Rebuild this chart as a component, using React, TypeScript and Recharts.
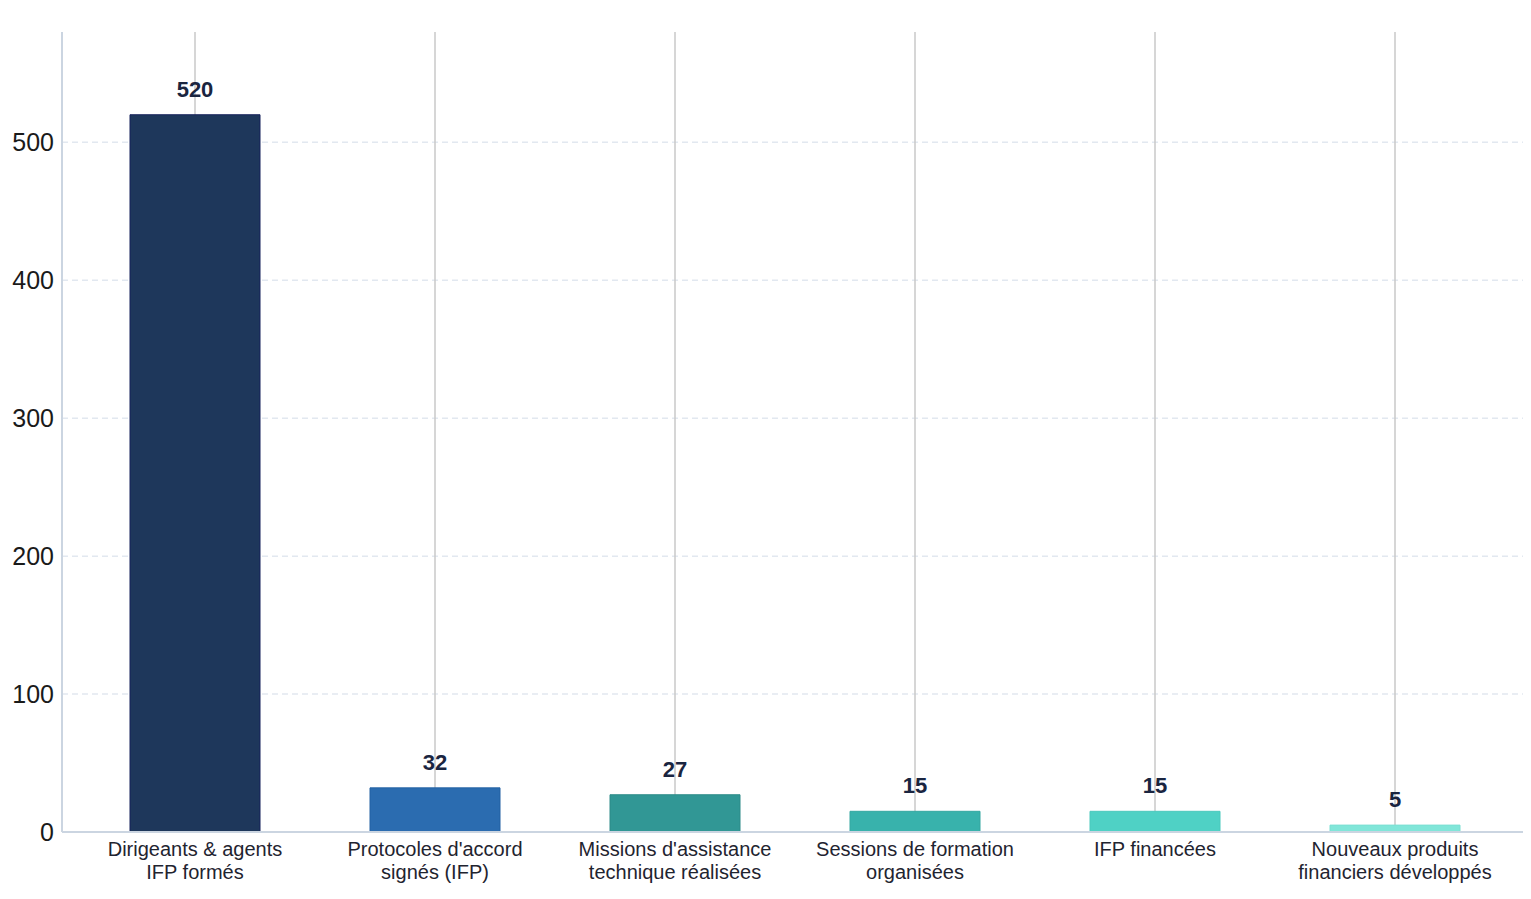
import { BarChart, Bar, XAxis, YAxis, CartesianGrid, Cell, LabelList } from "recharts";

// categories (line breaks as in the picture)
const CATEGORIES = [
  "Dirigeants & agents\nIFP formés",
  "Protocoles d'accord\nsignés (IFP)",
  "Missions d'assistance\ntechnique réalisées",
  "Sessions de formation\norganisées",
  "IFP financées",
  "Nouveaux produits\nfinanciers développés",
];
const VALUES = [520, 32, 27, 15, 15, 5];
const BAR_COLORS = ["#1e375b", "#2b6cb0", "#319795", "#38b2ac", "#4fd1c5", "#81e6d9"];
const BAR_STROKES = ["#14205a", "#2361a3", "#2c8a88", "#34a7a1", "#4bc9bd", "#7bdfd2"];
const Y_TICKS = [0, 100, 200, 300, 400, 500];
const GRID_VALUES = [100, 200, 300, 400, 500];

const chartData = CATEGORIES.map((name, i) => ({ name, value: VALUES[i] }));

const FONT = "'Liberation Sans', Arial, sans-serif";

// two-line x tick
const CategoryTick = (props: any) => {
  const { x, y, payload } = props;
  const lines = String(payload.value).split("\n");
  return (
    <g transform={`translate(${x},${y})`}>
      {lines.map((line: string, i: number) => (
        <text
          key={i}
          x={0}
          y={16 + i * 23}
          textAnchor="middle"
          fontSize={20}
          fontFamily={FONT}
          fill="#1f2430"
        >
          {line}
        </text>
      ))}
    </g>
  );
};

export default function App() {
  return (
    <div style={{ width: 1523, height: 891, fontFamily: FONT }}>
      <BarChart
        width={1523}
        height={891}
        data={chartData}
        margin={{ top: 24, right: 0, bottom: 7, left: 0 }}
        barSize={130}
      >
        <CartesianGrid
          vertical={false}
          horizontalValues={GRID_VALUES}
          stroke="#e2e8f0"
          strokeWidth={1.5}
          strokeDasharray="6 4"
        />
        <CartesianGrid horizontal={false} stroke="#c8c8c8" strokeWidth={1.5} />
        <XAxis
          dataKey="name"
          interval={0}
          tickLine={false}
          axisLine={{ stroke: "#cbd5e1", strokeWidth: 2 }}
          padding={{ left: 13, right: 16 }}
          height={60}
          tick={<CategoryTick />}
        />
        <YAxis
          domain={[0, 580]}
          ticks={Y_TICKS}
          tickLine={false}
          axisLine={{ stroke: "#cbd5e1", strokeWidth: 2 }}
          width={54}
          tick={{ fontSize: 25, fill: "#1a1a1a", fontFamily: FONT }}
        />
        <Bar dataKey="value" isAnimationActive={false} strokeWidth={1}>
          {chartData.map((entry, i) => (
            <Cell key={`cell-${i}`} fill={BAR_COLORS[i]} stroke={BAR_STROKES[i]} />
          ))}
          <LabelList
            dataKey="value"
            position="top"
            offset={18}
            fontSize={22}
            fontWeight="bold"
            fontFamily={FONT}
            fill="#1a2540"
          />
        </Bar>
      </BarChart>
    </div>
  );
}
